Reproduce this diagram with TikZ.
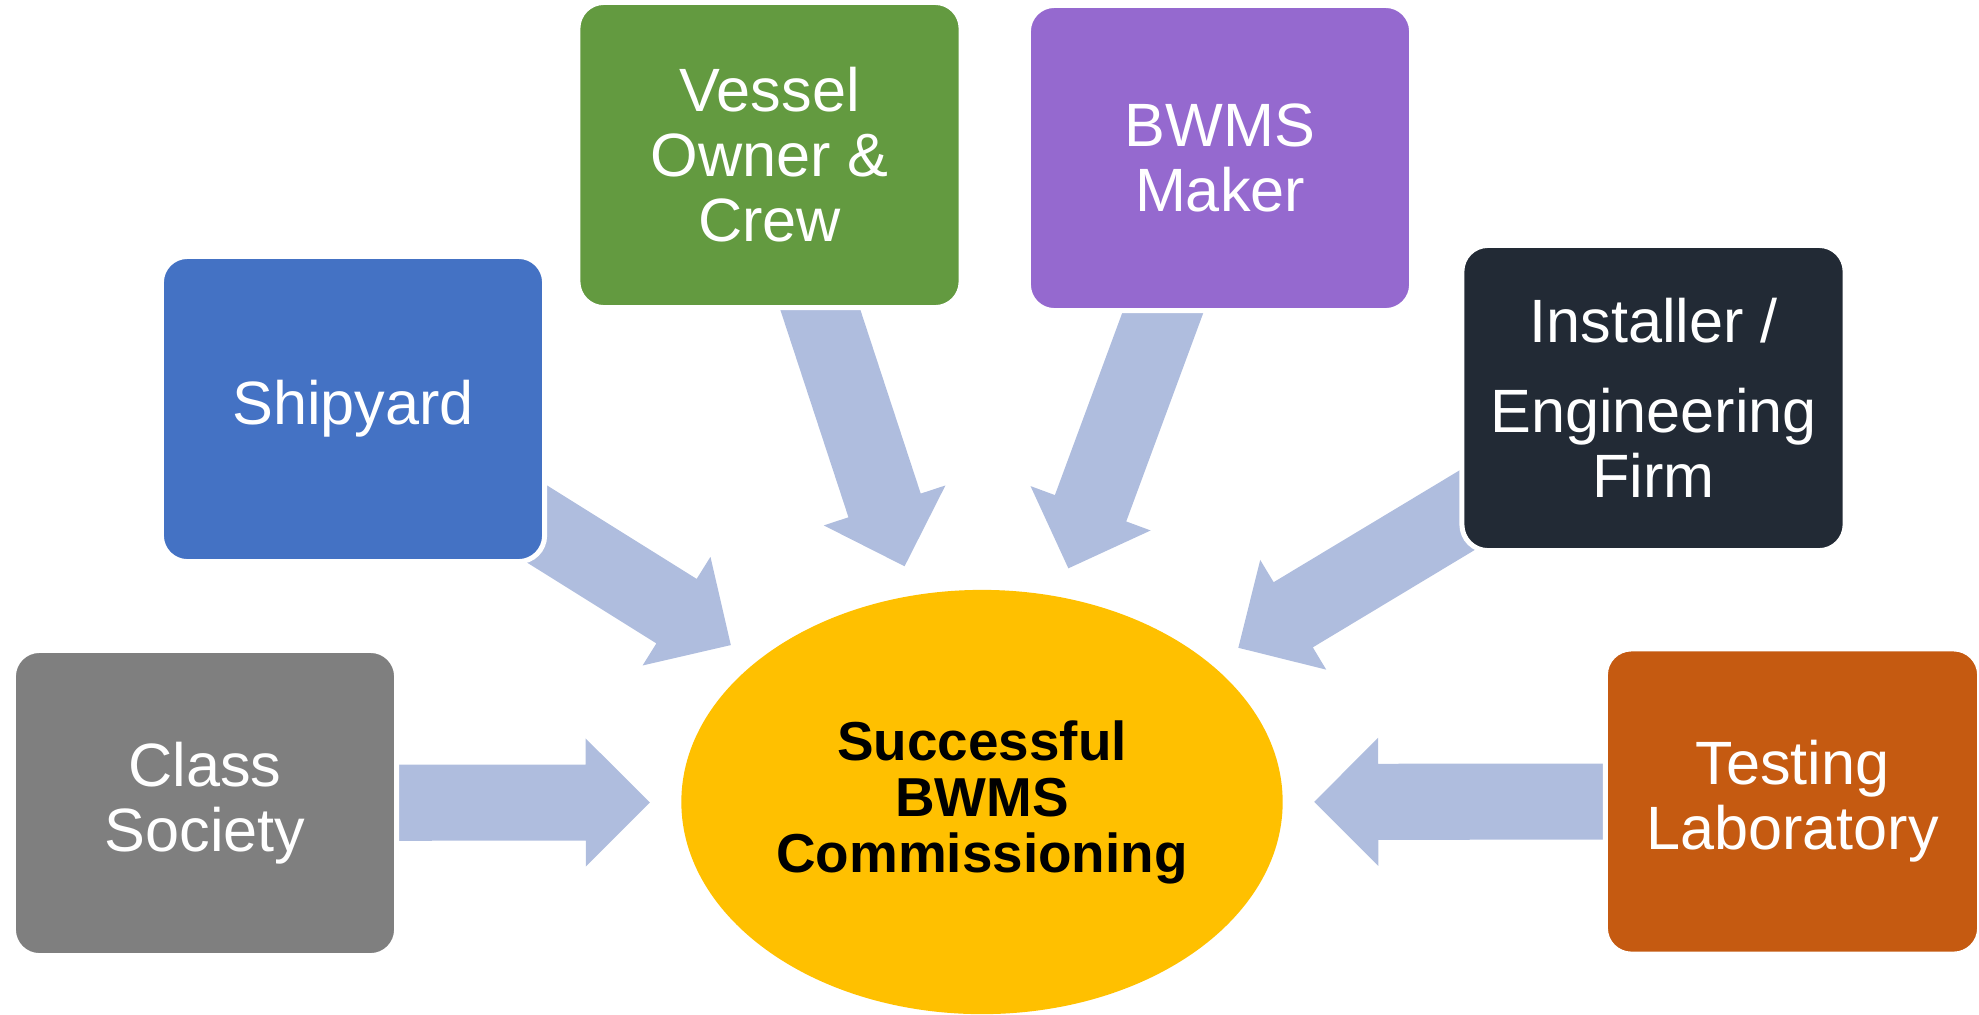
\documentclass[tikz,border=0pt]{standalone}
\usepackage{fontspec}
\setmainfont{Liberation Sans}
\usetikzlibrary{calc,shapes.geometric,backgrounds}
\definecolor{arrowc}{RGB}{175,189,222}
\definecolor{cgray}{RGB}{127,127,127}
\definecolor{cblue}{RGB}{68,114,196}
\definecolor{cgreen}{RGB}{99,154,64}
\definecolor{cpurple}{RGB}{149,105,207}
\definecolor{cdark}{RGB}{34,42,53}
\definecolor{corange}{RGB}{197,90,17}
\definecolor{cyellow}{RGB}{255,192,0}
% block arrow from node #1 toward node #2, tip at distance #3 from #2
\newcommand\blockarrow[3]{%
  \coordinate (bt) at ($(#2.center)!#3!(#1.center)$);
  \coordinate (bh) at ($(bt)!0.64cm!(#1.center)$);
  \fill[arrowfill] ($(#1.center)!0.38cm!90:(bt)$) -- ($(bh)!0.38cm!90:(bt)$)
    -- ($(bh)!0.64cm!90:(bt)$) -- (bt) -- ($(bh)!0.64cm!-90:(bt)$)
    -- ($(bh)!0.38cm!-90:(bt)$) -- ($(#1.center)!0.38cm!-90:(bt)$) -- cycle;
}
\begin{document}
\begin{tikzpicture}[x=0.01cm,y=-0.01cm,
  box/.style={rectangle,rounded corners=0.26cm,draw=white,line width=0.05cm,
    minimum width=3.83cm,minimum height=3.05cm,inner sep=0pt,text=white,
    align=center,font=\fontsize{17.4}{18.5}\selectfont},
  arrowfill/.style={fill=arrowc}]
\useasboundingbox (0,0) rectangle (1979,1014);
\node[box,fill=cgray] (cls) at (205,803) {Class\\Society};
\node[box,fill=cblue] (shp) at (353,409) {Shipyard};
\node[box,fill=cgreen] (own) at (769.5,155) {Vessel\\Owner \&\\Crew};
\node[box,fill=cpurple] (mak) at (1220,158) {BWMS\\Maker};
\node[box,fill=cdark] (ins) at (1653.5,398) {Installer /\\[7pt]Engineering\\Firm};
\node[box,fill=corange,minimum width=3.74cm] (lab) at (1792.5,801.5) {Testing\\Laboratory};
\node[ellipse,fill=cyellow,minimum width=6.01cm,minimum height=4.24cm,inner sep=0pt,
  align=center,font=\bfseries\fontsize{15.6}{15.93}\selectfont] (ell) at (982,802)
  {Successful\\BWMS\\Commissioning};
\begin{pgfonlayer}{background}
\blockarrow{cls}{ell}{3.32cm}
\blockarrow{lab}{ell}{3.32cm}
\blockarrow{shp}{ell}{2.96cm}
\blockarrow{own}{ell}{2.48cm}
\blockarrow{mak}{ell}{2.49cm}
\blockarrow{ins}{ell}{2.99cm}
\end{pgfonlayer}
\end{tikzpicture}
\end{document}
